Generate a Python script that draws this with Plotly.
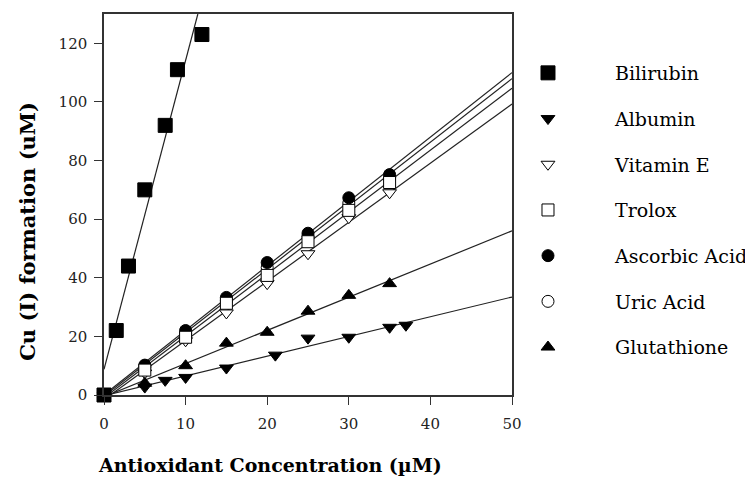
import numpy as np
import plotly.graph_objects as go

# ---- data ----
bili_x = [0, 1.5, 3, 5, 7.5, 9, 12]
bili_y = [0, 22, 44, 70, 92, 111, 123]

alb_x = [0, 5, 7.5, 10, 15, 21, 25, 30, 35, 37]
alb_y = [0, 2.7, 5, 6, 9.2, 13.6, 19.4, 19.7, 23.1, 23.8]

conc_x = [0, 5, 10, 15, 20, 25, 30, 35]
vite_y = [0, 7.5, 18.5, 28, 38, 48.2, 60.5, 69]
trol_y = [0, 8.5, 19.7, 31.3, 40.8, 52.3, 63, 72.5]
asc_y = [0, 10.2, 22, 33.3, 45.2, 55.2, 67.3, 75.2]
uric_y = [0, 9.5, 21, 32.3, 43.5, 54.2, 65.5, 74.2]
glut_y = [0, 4, 10, 17.7, 21.4, 28.6, 34, 38]

# (name, x, y, symbol, size, fill, edge, legend rank)
series = [
    ("Uric Acid", conc_x, uric_y, "circle", 12, "white", "black", 6),
    ("Ascorbic Acid", conc_x, asc_y, "circle", 12, "black", "black", 5),
    ("Vitamin E", conc_x, vite_y, "triangle-down", 12, "white", "black", 3),
    ("Trolox", conc_x, trol_y, "square", 12, "white", "black", 4),
    ("Glutathione", conc_x, glut_y, "triangle-up", 12, "black", "black", 7),
    ("Albumin", alb_x, alb_y, "triangle-down", 12, "black", "black", 2),
    ("Bilirubin", bili_x, bili_y, "square", 14, "black", "black", 1),
]

X_MAX = 50
Y_MAX = 130

fig = go.Figure()

# regression lines
for name, xs, ys, sym, sz, fill, edge, rank in series:
    slope, icpt = np.polyfit(xs, ys, 1)
    x_end = X_MAX
    if icpt + slope * x_end > Y_MAX:
        x_end = (Y_MAX - icpt) / slope
    lx = [0, x_end]
    ly = [icpt, icpt + slope * x_end]
    fig.add_trace(go.Scatter(x=lx, y=ly, mode="lines", showlegend=False,
                             line=dict(color="#222222", width=1.2),
                             hoverinfo="skip"))

# markers (legend entries)
for name, xs, ys, sym, sz, fill, edge, rank in series:
    fig.add_trace(go.Scatter(
        x=xs, y=ys, mode="markers", name=name, legendgroup=f"g{rank}",
        legendrank=rank, cliponaxis=False,
        marker=dict(symbol=sym, size=sz, color=fill,
                    line=dict(color=edge, width=1)),
    ))

serif = "DejaVu Serif"
# the page adds an 8px body margin; plot area should sit at x 104..512, y 12..395
fig.update_layout(
    width=753, height=477,
    margin=dict(l=96, r=249, t=4, b=90),
    paper_bgcolor="white", plot_bgcolor="white",
    font=dict(family=serif, size=15, color="black"),
    showlegend=True,
    legend=dict(x=0.924, y=0.895, xanchor="left", yanchor="top",
                font=dict(family=serif, size=19, color="black"),
                tracegroupgap=18, itemwidth=124, bgcolor="rgba(0,0,0,0)"),
    xaxis=dict(range=[0, X_MAX], tickvals=[0, 10, 20, 30, 40, 50],
               showline=True, linecolor="#333333", linewidth=1.5, mirror=True,
               ticks="outside", ticklen=8, tickcolor="#333333",
               ticklabelstandoff=6,
               showgrid=False, zeroline=False,
               tickfont=dict(family=serif, size=15, color="#222222")),
    yaxis=dict(range=[0, Y_MAX], tickvals=[0, 20, 40, 60, 80, 100, 120],
               showline=True, linecolor="#333333", linewidth=1.5, mirror=True,
               ticks="outside", ticklen=8, tickcolor="#333333",
               ticklabelstandoff=4,
               showgrid=False, zeroline=False,
               tickfont=dict(family=serif, size=15, color="#222222")),
    annotations=[
        dict(text="<b>Antioxidant Concentration (µM)</b>", xref="paper", yref="paper",
             x=(270 - 104) / 408, y=-(465 - 395) / 383, xanchor="center", yanchor="middle",
             showarrow=False, font=dict(family=serif, size=19, color="black")),
        dict(text="<b>Cu (I) formation (uM)</b>", xref="paper", yref="paper",
             x=-(104 - 28) / 408, y=(395 - 231) / 383, xanchor="center", yanchor="middle",
             textangle=-90, showarrow=False,
             font=dict(family=serif, size=21, color="black")),
    ],
)

fig.write_html("out.html")
